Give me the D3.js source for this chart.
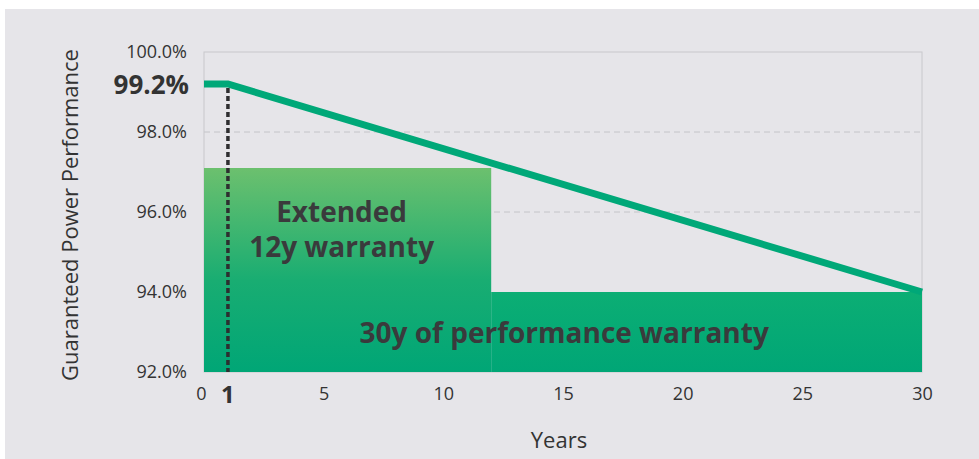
<!DOCTYPE html>
<html>
<head>
<meta charset="utf-8">
<script src="https://cdn.jsdelivr.net/npm/d3@7"></script>
<style>
  body { margin: 0; background: #fff; }
  svg { display: block; }
</style>
</head>
<body>
<svg></svg>
<script>
// guaranteed performance line
const lineYears = [0, 1, 30];
const lineValues = [99.2, 99.2, 94.0];

// warranty blocks
const blockFrom = [0, 12];
const blockTo = [12, 30];
const blockTop = [97.1, 94.0];

const xTicks = [0, 5, 10, 15, 20, 25, 30];
const yTicks = [92, 94, 96, 98, 100];
const gridTicks = [96, 98];
const markYear = 1;
const markValue = 99.2;

const width = 979;
const height = 459;
const plotLeft = 204, plotRight = 922, plotTop = 52, plotBottom = 372;

const green = '#00a878';
const textColor = '#333333';
const font = "'Open Sans', sans-serif";

let svg = d3.select('svg').attr('width', width).attr('height', height);

let xScale = d3.scaleLinear().domain([0, 30]).range([plotLeft, plotRight]);
let yScale = d3.scaleLinear().domain([92, 100]).range([plotBottom, plotTop]);

// background panel
svg.append('rect')
    .attr('x', 5).attr('y', 9)
    .attr('width', width - 5).attr('height', height - 9)
    .attr('fill', '#e6e5e9');

let defs = svg.append('defs');
let grad = defs.append('linearGradient')
    .attr('id', 'leftGrad')
    .attr('x1', 0).attr('y1', 0).attr('x2', 0).attr('y2', 1);
grad.append('stop').attr('offset', '0%').attr('stop-color', '#6cc06e');
grad.append('stop').attr('offset', '55%').attr('stop-color', '#19ad72');
grad.append('stop').attr('offset', '100%').attr('stop-color', '#00a676');

let grad2 = defs.append('linearGradient')
    .attr('id', 'rightGrad')
    .attr('x1', 0).attr('y1', 0).attr('x2', 0).attr('y2', 1);
grad2.append('stop').attr('offset', '0%').attr('stop-color', '#0cae74');
grad2.append('stop').attr('offset', '100%').attr('stop-color', '#00a676');

// grid lines
svg.append('g')
    .selectAll('line')
    .data(gridTicks)
    .enter()
    .append('line')
    .attr('x1', plotLeft).attr('x2', plotRight)
    .attr('y1', d => yScale(d)).attr('y2', d => yScale(d))
    .attr('stroke', '#c4c4c8')
    .attr('stroke-width', 1)
    .attr('stroke-dasharray', '6,4');

// plot frame
svg.append('rect')
    .attr('x', plotLeft).attr('y', plotTop)
    .attr('width', plotRight - plotLeft).attr('height', plotBottom - plotTop)
    .attr('fill', 'none')
    .attr('stroke', '#c8c8cc')
    .attr('stroke-width', 1);

// blocks
svg.append('g')
    .selectAll('rect')
    .data(blockFrom)
    .enter()
    .append('rect')
    .attr('x', (d, i) => xScale(d))
    .attr('y', (d, i) => yScale(blockTop[i]))
    .attr('width', (d, i) => xScale(blockTo[i]) - xScale(d))
    .attr('height', (d, i) => yScale(92) - yScale(blockTop[i]))
    .attr('fill', (d, i) => i == 0 ? 'url(#leftGrad)' : 'url(#rightGrad)');

// performance line
let line = d3.line()
    .x((d, i) => xScale(lineYears[i]))
    .y(d => yScale(d));

svg.append('path')
    .datum(lineValues)
    .attr('d', line)
    .attr('fill', 'none')
    .attr('stroke', green)
    .attr('stroke-width', 7);

// dashed marker at year 1
svg.append('line')
    .attr('x1', xScale(markYear)).attr('x2', xScale(markYear))
    .attr('y1', yScale(markValue) + 4).attr('y2', yScale(92))
    .attr('stroke', '#2e2e30')
    .attr('stroke-width', 3.5)
    .attr('stroke-dasharray', '5,3');

// block labels
svg.append('text')
    .attr('x', xScale(5.75)).attr('y', yScale(95.75))
    .attr('text-anchor', 'middle')
    .attr('font-family', font).attr('font-weight', 'bold')
    .attr('font-size', 28).attr('fill', '#3a3a3c')
    .text('Extended');
svg.append('text')
    .attr('x', xScale(5.75)).attr('y', yScale(94.88))
    .attr('text-anchor', 'middle')
    .attr('font-family', font).attr('font-weight', 'bold')
    .attr('font-size', 28).attr('fill', '#3a3a3c')
    .text('12y warranty');
svg.append('text')
    .attr('x', xScale(15.05)).attr('y', yScale(92.73))
    .attr('text-anchor', 'middle')
    .attr('font-family', font).attr('font-weight', 'bold')
    .attr('font-size', 28).attr('fill', '#3a3a3c')
    .text('30y of performance warranty');

// axes
let xAxis = d3.axisBottom(xScale).tickValues(xTicks).tickSize(0).tickPadding(15);
let gx = svg.append('g')
    .attr('transform', 'translate(0,' + plotBottom + ')')
    .call(xAxis);
gx.select('.domain').remove();
gx.selectAll('text')
    .attr('font-family', font).attr('font-size', 18).attr('fill', textColor);
gx.selectAll('.tick').filter(d => d == 0)
    .select('text').attr('dx', '-3');

let yAxis = d3.axisLeft(yScale).tickValues(yTicks).tickSize(0).tickPadding(17)
    .tickFormat(d => d.toFixed(1) + '%');
let gy = svg.append('g')
    .attr('transform', 'translate(' + plotLeft + ',0)')
    .call(yAxis);
gy.select('.domain').remove();
gy.selectAll('text')
    .attr('font-family', font).attr('font-size', 18).attr('fill', textColor);

// highlighted values
svg.append('text')
    .attr('x', plotLeft - 15).attr('y', yScale(markValue) + 10)
    .attr('text-anchor', 'end')
    .attr('font-family', font).attr('font-weight', 'bold')
    .attr('font-size', 26).attr('fill', textColor)
    .text(markValue.toFixed(1) + '%');
svg.append('text')
    .attr('x', xScale(markYear)).attr('y', plotBottom + 31)
    .attr('text-anchor', 'middle')
    .attr('font-family', font).attr('font-weight', 'bold')
    .attr('font-size', 24).attr('fill', textColor)
    .text(markYear);

// axis titles
svg.append('text')
    .attr('x', 559).attr('y', 448)
    .attr('text-anchor', 'middle')
    .attr('font-family', font).attr('font-size', 22).attr('fill', textColor)
    .text('Years');
svg.append('text')
    .attr('transform', 'translate(78,215) rotate(-90)')
    .attr('text-anchor', 'middle')
    .attr('font-family', font).attr('font-size', 22).attr('fill', textColor)
    .text('Guaranteed Power Performance');
</script>
</body>
</html>
